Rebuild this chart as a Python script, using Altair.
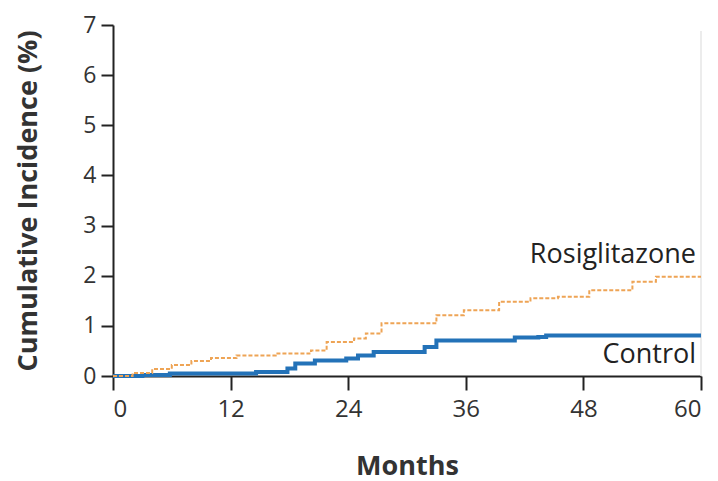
import altair as alt
import pandas as pd

# Rosiglitazone step curve (months, cumulative incidence %)
rosi_months = [0, 2, 4, 6, 8, 10, 12.6, 16.6, 20.2, 21.8, 24.6, 25.8, 27.4, 33.0, 35.8, 39.4, 42.6, 45.4, 48.6, 53.0, 55.4, 60]
rosi_values = [0, 0.06, 0.14, 0.22, 0.30, 0.36, 0.41, 0.45, 0.51, 0.68, 0.75, 0.85, 1.05, 1.21, 1.31, 1.48, 1.55, 1.58, 1.71, 1.88, 1.98, 1.98]

# Control step curve
ctrl_months = [0, 3, 5.8, 14.6, 17.8, 18.6, 20.6, 23.8, 25.0, 26.6, 31.8, 33.0, 41.0, 43.4, 44.2, 60]
ctrl_values = [0, 0.02, 0.05, 0.08, 0.15, 0.25, 0.31, 0.35, 0.41, 0.48, 0.58, 0.71, 0.77, 0.78, 0.81, 0.81]

x_ticks = [0, 12, 24, 36, 48, 60]
y_ticks = [0, 1, 2, 3, 4, 5, 6, 7]

label_text = ["Rosiglitazone", "Control"]
label_x = [60, 60]
label_y = [2.42, 0.42]

rosi = pd.DataFrame({"month": rosi_months, "value": rosi_values})
ctrl = pd.DataFrame({"month": ctrl_months, "value": ctrl_values})
labels = pd.DataFrame({"text": label_text, "month": label_x, "value": label_y})

FONT = "Open Sans"

xscale = alt.Scale(domain=[0, 60], nice=False)
yscale = alt.Scale(domain=[0, 7], nice=False)

xaxis = alt.Axis(values=x_ticks, title="Months", titleFontSize=27, titleFontWeight="bold",
                 titleFont=FONT, titleColor="#333", titlePadding=32,
                 labelFont=FONT, labelFontSize=24, labelColor="#333", labelPadding=7,
                 tickSize=14, tickWidth=2, tickColor="#222", domainColor="#222", domainWidth=2,
                 grid=False)
yaxis = alt.Axis(values=y_ticks, title="Cumulative Incidence (%)", titleFontSize=27,
                 titleFontWeight="bold", titleFont=FONT, titleColor="#333", titlePadding=40,
                 labelFont=FONT, labelFontSize=23, labelColor="#333", labelPadding=5,
                 tickSize=12, tickWidth=2, tickColor="#222", domainColor="#222", domainWidth=2,
                 grid=False)

right_rule = alt.Chart(pd.DataFrame({"month": [60]})).mark_rule(color="#e6e6e6", strokeWidth=1.5).encode(
    x=alt.X("month:Q", scale=xscale, axis=xaxis),
    y=alt.value(6), y2=alt.value(351)
)

ctrl_line = alt.Chart(ctrl).mark_line(interpolate="step-after", color="#2372b8", strokeWidth=4).encode(
    x=alt.X("month:Q", scale=xscale, axis=xaxis),
    y=alt.Y("value:Q", scale=yscale, axis=yaxis)
)

rosi_line = alt.Chart(rosi).mark_line(interpolate="step-after", color="#eea455", strokeWidth=2,
                                      strokeDash=[4, 2]).encode(
    x=alt.X("month:Q", scale=xscale),
    y=alt.Y("value:Q", scale=yscale)
)

text = alt.Chart(labels).mark_text(align="right", baseline="middle", font=FONT, fontSize=27,
                                   color="#222", dx=-5).encode(
    x=alt.X("month:Q", scale=xscale),
    y=alt.Y("value:Q", scale=yscale),
    text="text:N"
)

chart = alt.layer(right_rule, ctrl_line, rosi_line, text).properties(
    width=588, height=351,
    autosize=alt.AutoSizeParams(type="none"),
    padding={"left": 105, "top": 17, "right": 9, "bottom": 105},
    background="white"
).configure_view(stroke=None)

chart.save("out.html", embed_options={"renderer": "svg", "actions": False})
